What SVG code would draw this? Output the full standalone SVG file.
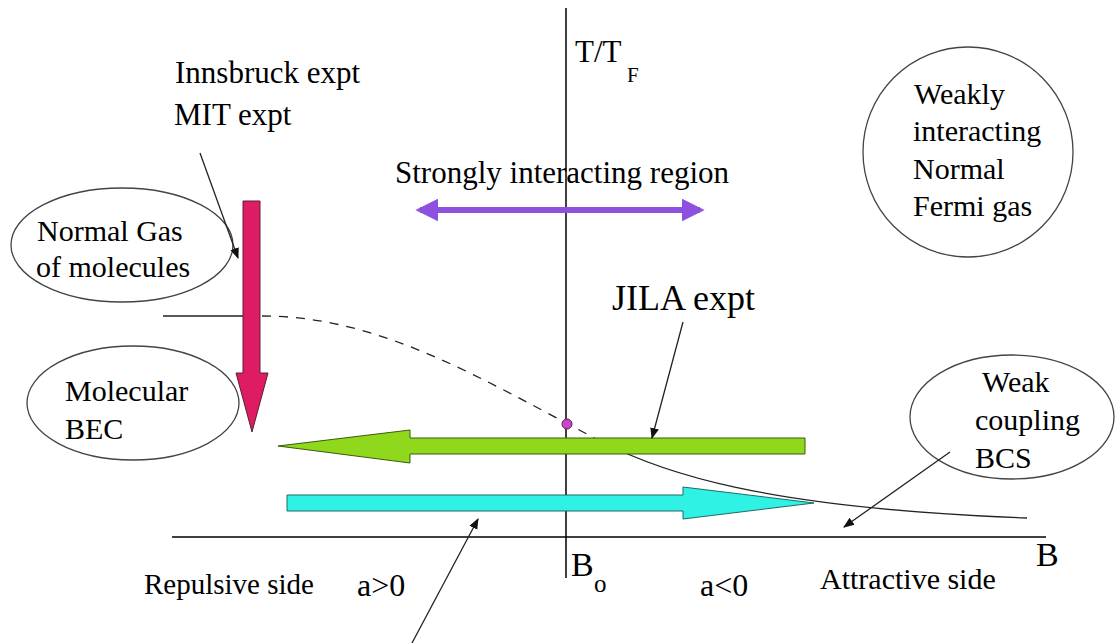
<svg xmlns="http://www.w3.org/2000/svg" width="1117" height="643" viewBox="0 0 1117 643" font-family="serif">
<defs>
<marker id="ah" viewBox="0 0 10 10" refX="9" refY="5" markerWidth="11" markerHeight="11" markerUnits="userSpaceOnUse" orient="auto">
<path d="M0,1 L10,5 L0,9 Z" fill="#111"/>
</marker>
<marker id="pl" viewBox="0 0 10 10" refX="8" refY="5" markerWidth="3.8" markerHeight="3.8" orient="auto-start-reverse">
<path d="M0,0 L10,5 L0,10 Z" fill="#8c52df"/>
</marker>
</defs>
<rect width="1117" height="643" fill="#fff"/>

<g id="axes" stroke="#000" stroke-width="1.5">
<line x1="566" y1="8" x2="566" y2="578"/>
<line x1="172" y1="537" x2="1046" y2="537"/>
</g>
<g id="axis-labels">
<text font-family="serif" font-size="31" x="575" y="62">T/T</text>
<text font-family="serif" font-size="21" x="627" y="82">F</text>
<text font-family="serif" font-size="34" x="571" y="576">B</text>
<text font-family="serif" font-size="25" x="594" y="592">o</text>
<text font-family="serif" font-size="34" x="1036" y="566">B</text>
</g>

<g id="curve" stroke="#222" stroke-width="1.3" fill="none">
<line x1="163" y1="316" x2="250" y2="316"/>
<path d="M262,316 C380,316 480,378 600,441" stroke-dasharray="9,8"/>
<path d="M600,441 C660,472 760,508 1027,518"/>
</g>

<g id="node-innsbruck">
<text font-family="serif" font-size="31" x="175" y="83">Innsbruck expt</text>
<text font-family="serif" font-size="31" x="174" y="125">MIT expt</text>
</g>

<g id="node-fermi">
<circle cx="968" cy="152" r="105" fill="#fff" stroke="#444" stroke-width="1.3"/>
<text font-family="serif" font-size="30" x="914" y="104">Weakly</text>
<text font-family="serif" font-size="30" x="913" y="141">interacting</text>
<text font-family="serif" font-size="30" x="913" y="179">Normal</text>
<text font-family="serif" font-size="30" x="913" y="216">Fermi gas</text>
</g>

<g id="node-strong">
<text font-family="serif" font-size="31" x="395" y="183">Strongly interacting region</text>
<line x1="420" y1="210" x2="700" y2="210" stroke="#8c52df" stroke-width="6" marker-start="url(#pl)" marker-end="url(#pl)"/>
</g>

<g id="node-normalgas">
<ellipse cx="122" cy="245" rx="111" ry="57" fill="#fff" stroke="#444" stroke-width="1.3"/>
<text font-family="serif" font-size="30" x="37" y="241">Normal Gas</text>
<text font-family="serif" font-size="30" x="36" y="277">of molecules</text>
</g>

<g id="node-bec">
<ellipse cx="133" cy="403" rx="106" ry="57" fill="#fff" stroke="#444" stroke-width="1.3"/>
<text font-family="serif" font-size="30" x="65" y="401">Molecular</text>
<text font-family="serif" font-size="30" x="65" y="439">BEC</text>
</g>

<g id="node-bcs">
<ellipse cx="1012" cy="417" rx="102" ry="62" fill="#fff" stroke="#444" stroke-width="1.3"/>
<text font-family="serif" font-size="30" x="982" y="392">Weak</text>
<text font-family="serif" font-size="30" x="975" y="430">coupling</text>
<text font-family="serif" font-size="30" x="975" y="468">BCS</text>
</g>

<g id="node-jila">
<text font-family="serif" font-size="36" x="612" y="310">JILA expt</text>
</g>

<g id="node-pink">
<path d="M243,201 L260,201 L260,373 L268,373 L252,432 L236,373 L243,373 Z" fill="#dd1c63" stroke="#5a2030" stroke-width="1"/>
</g>

<g id="node-green">
<path d="M805,438 L805,454 L410,454 L410,463 L278,446 L410,430 L410,438 Z" fill="#8fd81c" stroke="#3d5a10" stroke-width="1"/>
</g>

<g id="node-cyan">
<path d="M287,495 L683,495 L683,487 L814,503 L683,519 L683,511 L287,511 Z" fill="#30f2e4" stroke="#1d6a64" stroke-width="1"/>
</g>

<g id="node-dot">
<circle cx="567" cy="424" r="5" fill="#cc44cc" stroke="#552255" stroke-width="1"/>
</g>

<g id="node-labels">
<text font-family="serif" font-size="29" x="144" y="594">Repulsive side</text>
<text font-family="serif" font-size="32" x="357" y="596">a&gt;0</text>
<text font-family="serif" font-size="32" x="700" y="596">a&lt;0</text>
<text font-family="serif" font-size="30" x="820" y="589">Attractive side</text>
</g>

<g id="connectors" stroke="#222" stroke-width="1.3" fill="none">
<line x1="200" y1="153" x2="238" y2="258" marker-end="url(#ah)"/>
<line x1="683" y1="322" x2="652" y2="438" marker-end="url(#ah)"/>
<line x1="950" y1="452" x2="844" y2="527" marker-end="url(#ah)"/>
<line x1="412" y1="643" x2="478" y2="519" marker-end="url(#ah)"/>
</g>
</svg>
